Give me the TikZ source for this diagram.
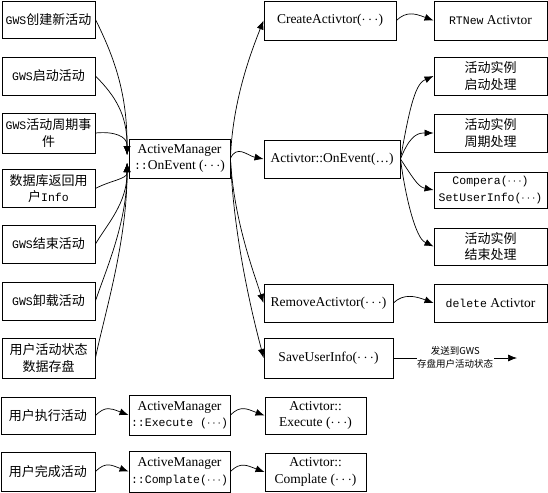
\documentclass[tikz,border=0pt]{standalone}
\usepackage{fontspec}
\setmainfont{Liberation Serif}
\newfontfamily\cjk{Noto Sans CJK SC}
\newfontfamily\mono{Liberation Mono}
\usetikzlibrary{arrows.meta}
\newcommand{\mn}[1]{{\fontsize{11.5}{15}\selectfont\mono #1}}
\newcommand{\ce}{\ensuremath{\cdots}}
\begin{document}
\begin{tikzpicture}[x=1pt,y=1pt,
  bx/.style={draw, line width=0.9pt, inner sep=0pt, align=center, font=\fontsize{13.5}{16.5}\selectfont},
  cbx/.style={bx, font=\fontsize{13}{16.5}\selectfont\cjk},
  con/.style={line width=0.7pt, -{Latex[length=9pt,width=7pt]}},
  lab/.style={fill=white, inner sep=0.5pt, align=center, font=\fontsize{9.5}{12.5}\selectfont\cjk}
]
\useasboundingbox (0,0) rectangle (548,-492);
% left column
\node[cbx, minimum width=93pt, minimum height=37pt] (L1) at (48.5,-19.5) {\mn{GWS}创建新活动};
\node[cbx, minimum width=93pt, minimum height=38pt] (L2) at (48.5,-76) {\mn{GWS}启动活动};
\node[cbx, minimum width=93pt, minimum height=40pt] (L3) at (48.5,-133) {\mn{GWS}活动周期事\\件};
\node[cbx, minimum width=93pt, minimum height=38pt] (L4) at (48.5,-188.5) {数据库返回用\\户\mn{Info}};
\node[cbx, minimum width=93pt, minimum height=38pt] (L5) at (48.5,-244) {\mn{GWS}结束活动};
\node[cbx, minimum width=93pt, minimum height=38pt] (L6) at (48.5,-301) {\mn{GWS}卸载活动};
\node[cbx, minimum width=93pt, minimum height=40pt] (L7) at (48.5,-358) {用户活动状态\\数据存盘};
% center
\node[bx, minimum width=101pt, minimum height=39pt] (AM) at (179.5,-158.5) {ActiveManager\\\mn{::}OnEvent (\ce)};
% right
\node[bx, minimum width=132pt, minimum height=39pt] (CR) at (330,-20.5) {CreateActivtor(\ce)};
\node[bx, minimum width=113pt, minimum height=39pt] (RT) at (490.5,-20.5) {\mn{RTNew} Activtor};
\node[bx, minimum width=136pt, minimum height=38pt] (AOE) at (332,-159) {Activtor::OnEvent(…)};
\node[cbx, minimum width=113pt, minimum height=38pt] (R1) at (490.5,-76) {活动实例\\启动处理};
\node[cbx, minimum width=113pt, minimum height=38pt] (R2) at (490.5,-133) {活动实例\\周期处理};
\node[bx, minimum width=113pt, minimum height=36pt] (R3) at (490.5,-190) {\mn{Compera(\ce)}\\\mn{SetUserInfo(\ce)}};
\node[cbx, minimum width=113pt, minimum height=37pt] (R4) at (490.5,-246.5) {活动实例\\结束处理};
\node[bx, minimum width=129pt, minimum height=38pt] (RM) at (328.5,-303) {RemoveActivtor(\ce)};
\node[bx, minimum width=113pt, minimum height=38pt] (DL) at (490.5,-303) {\mn{delete} Activtor};
\node[bx, minimum width=129pt, minimum height=40pt] (SV) at (328.5,-358) {SaveUserInfo(\ce)};
\coordinate (SVend) at (517,-358);
% bottom
\node[cbx, minimum width=94pt, minimum height=37pt] (B1) at (48,-415.5) {用户执行活动};
\node[bx, minimum width=101pt, minimum height=40pt] (B2) at (179.5,-415) {ActiveManager\\\mn{::Execute (\ce)}};
\node[bx, minimum width=101pt, minimum height=37pt] (B3) at (315.5,-415.5) {Activtor::\\Execute (\ce)};
\node[cbx, minimum width=94pt, minimum height=39pt] (C1) at (48,-471.5) {用户完成活动};
\node[bx, minimum width=101pt, minimum height=41pt] (C2) at (179.5,-471.5) {ActiveManager\\\mn{::Complate(\ce)}};
\node[bx, minimum width=101pt, minimum height=38pt] (C3) at (315.5,-472) {Activtor::\\Complate (\ce)};
% connectors left -> AM (curve, then a short straight end carrying the tip)
\draw[con] (L1.east) .. controls +(20,-40) and +(0,50) .. ([xshift=-1.5pt,yshift=13.5pt]AM.west) -- ([xshift=-1.5pt,yshift=3.5pt]AM.west);
\draw[con] (L2.east) .. controls +(20,-20) and +(0,30) .. ([xshift=-1.5pt,yshift=13.5pt]AM.west) -- ([xshift=-1.5pt,yshift=3.5pt]AM.west);
\draw[con] (L3.east) .. controls +(20,2) and +(0,8) .. ([xshift=-1.5pt,yshift=13.5pt]AM.west) -- ([xshift=-1.5pt,yshift=3.5pt]AM.west);
\draw[con] (L4.east) .. controls +(15,8) and +(0,-6) .. ([xshift=-1.5pt,yshift=-14.5pt]AM.west) -- ([xshift=-1.5pt,yshift=-4.5pt]AM.west);
\draw[con] (L5.east) .. controls +(12,20) and +(0,-30) .. ([xshift=-1.5pt,yshift=-14.5pt]AM.west) -- ([xshift=-1.5pt,yshift=-4.5pt]AM.west);
\draw[con] (L6.east) .. controls +(10,30) and +(0,-50) .. ([xshift=-1.5pt,yshift=-14.5pt]AM.west) -- ([xshift=-1.5pt,yshift=-4.5pt]AM.west);
\draw[con] (L7.east) .. controls +(8,40) and +(0,-70) .. ([xshift=-1.5pt,yshift=-14.5pt]AM.west) -- ([xshift=-1.5pt,yshift=-4.5pt]AM.west);
% AM -> right
\draw[con] (AM.east) .. controls +(2,60) and +(-7,-18) .. ([shift={(-3.7,-9.3)}]CR.west) -- (CR.west);
\draw[con] (AM.east) .. controls +(6,14) and +(-6,1.5) .. ([shift={(-9.8,2.1)}]AOE.west) -- (AOE.west);
\draw[con] (AM.east) .. controls +(3,-60) and +(-7,22) .. ([shift={(-3.1,9.4)}]RM.west) -- (RM.west);
\draw[con] (AM.east) .. controls +(3,-80) and +(-8,30) .. ([shift={(-2.4,9.7)}]SV.west) -- (SV.west);
% AOE -> right boxes
\draw[con] (AOE.east) .. controls +(8,45) and +(-10,-4.5) .. ([shift={(-9.1,-4.1)}]R1.west) -- (R1.west);
\draw[con] (AOE.east) .. controls +(8,20) and +(-8,0) .. ([shift={(-10,0)}]R2.west) -- (R2.west);
\draw[con] (AOE.east) .. controls +(10,-15) and +(-6,1.3) .. ([shift={(-9.8,2.1)}]R3.west) -- (R3.west);
\draw[con] (AOE.east) .. controls +(6,-45) and +(-8,4) .. ([shift={(-8.9,4.5)}]R4.west) -- (R4.west);
% arcs
\draw[con] (CR.east) .. controls +(10,10) and +(-8,3) .. ([shift={(-9.4,3.5)}]RT.west) -- (RT.west);
\draw[con] (RM.east) .. controls +(10,10) and +(-8,3) .. ([shift={(-9.4,3.5)}]DL.west) -- (DL.west);
\draw[con] (SV.east) -- node[lab, pos=0.5, yshift=0.5pt] {发送到\textit{GWS}\\存盘用户活动状态} (SVend);
\draw[con] (B1.east) .. controls +(10,10) and +(-8,3) .. ([shift={(-9.4,3.5)}]B2.west) -- (B2.west);
\draw[con] (B2.east) .. controls +(10,10) and +(-8,3) .. ([shift={(-9.4,3.5)}]B3.west) -- (B3.west);
\draw[con] (C1.east) .. controls +(10,10) and +(-8,3) .. ([shift={(-9.4,3.5)}]C2.west) -- (C2.west);
\draw[con] (C2.east) .. controls +(10,10) and +(-8,3) .. ([shift={(-9.4,3.5)}]C3.west) -- (C3.west);
\end{tikzpicture}
\end{document}
